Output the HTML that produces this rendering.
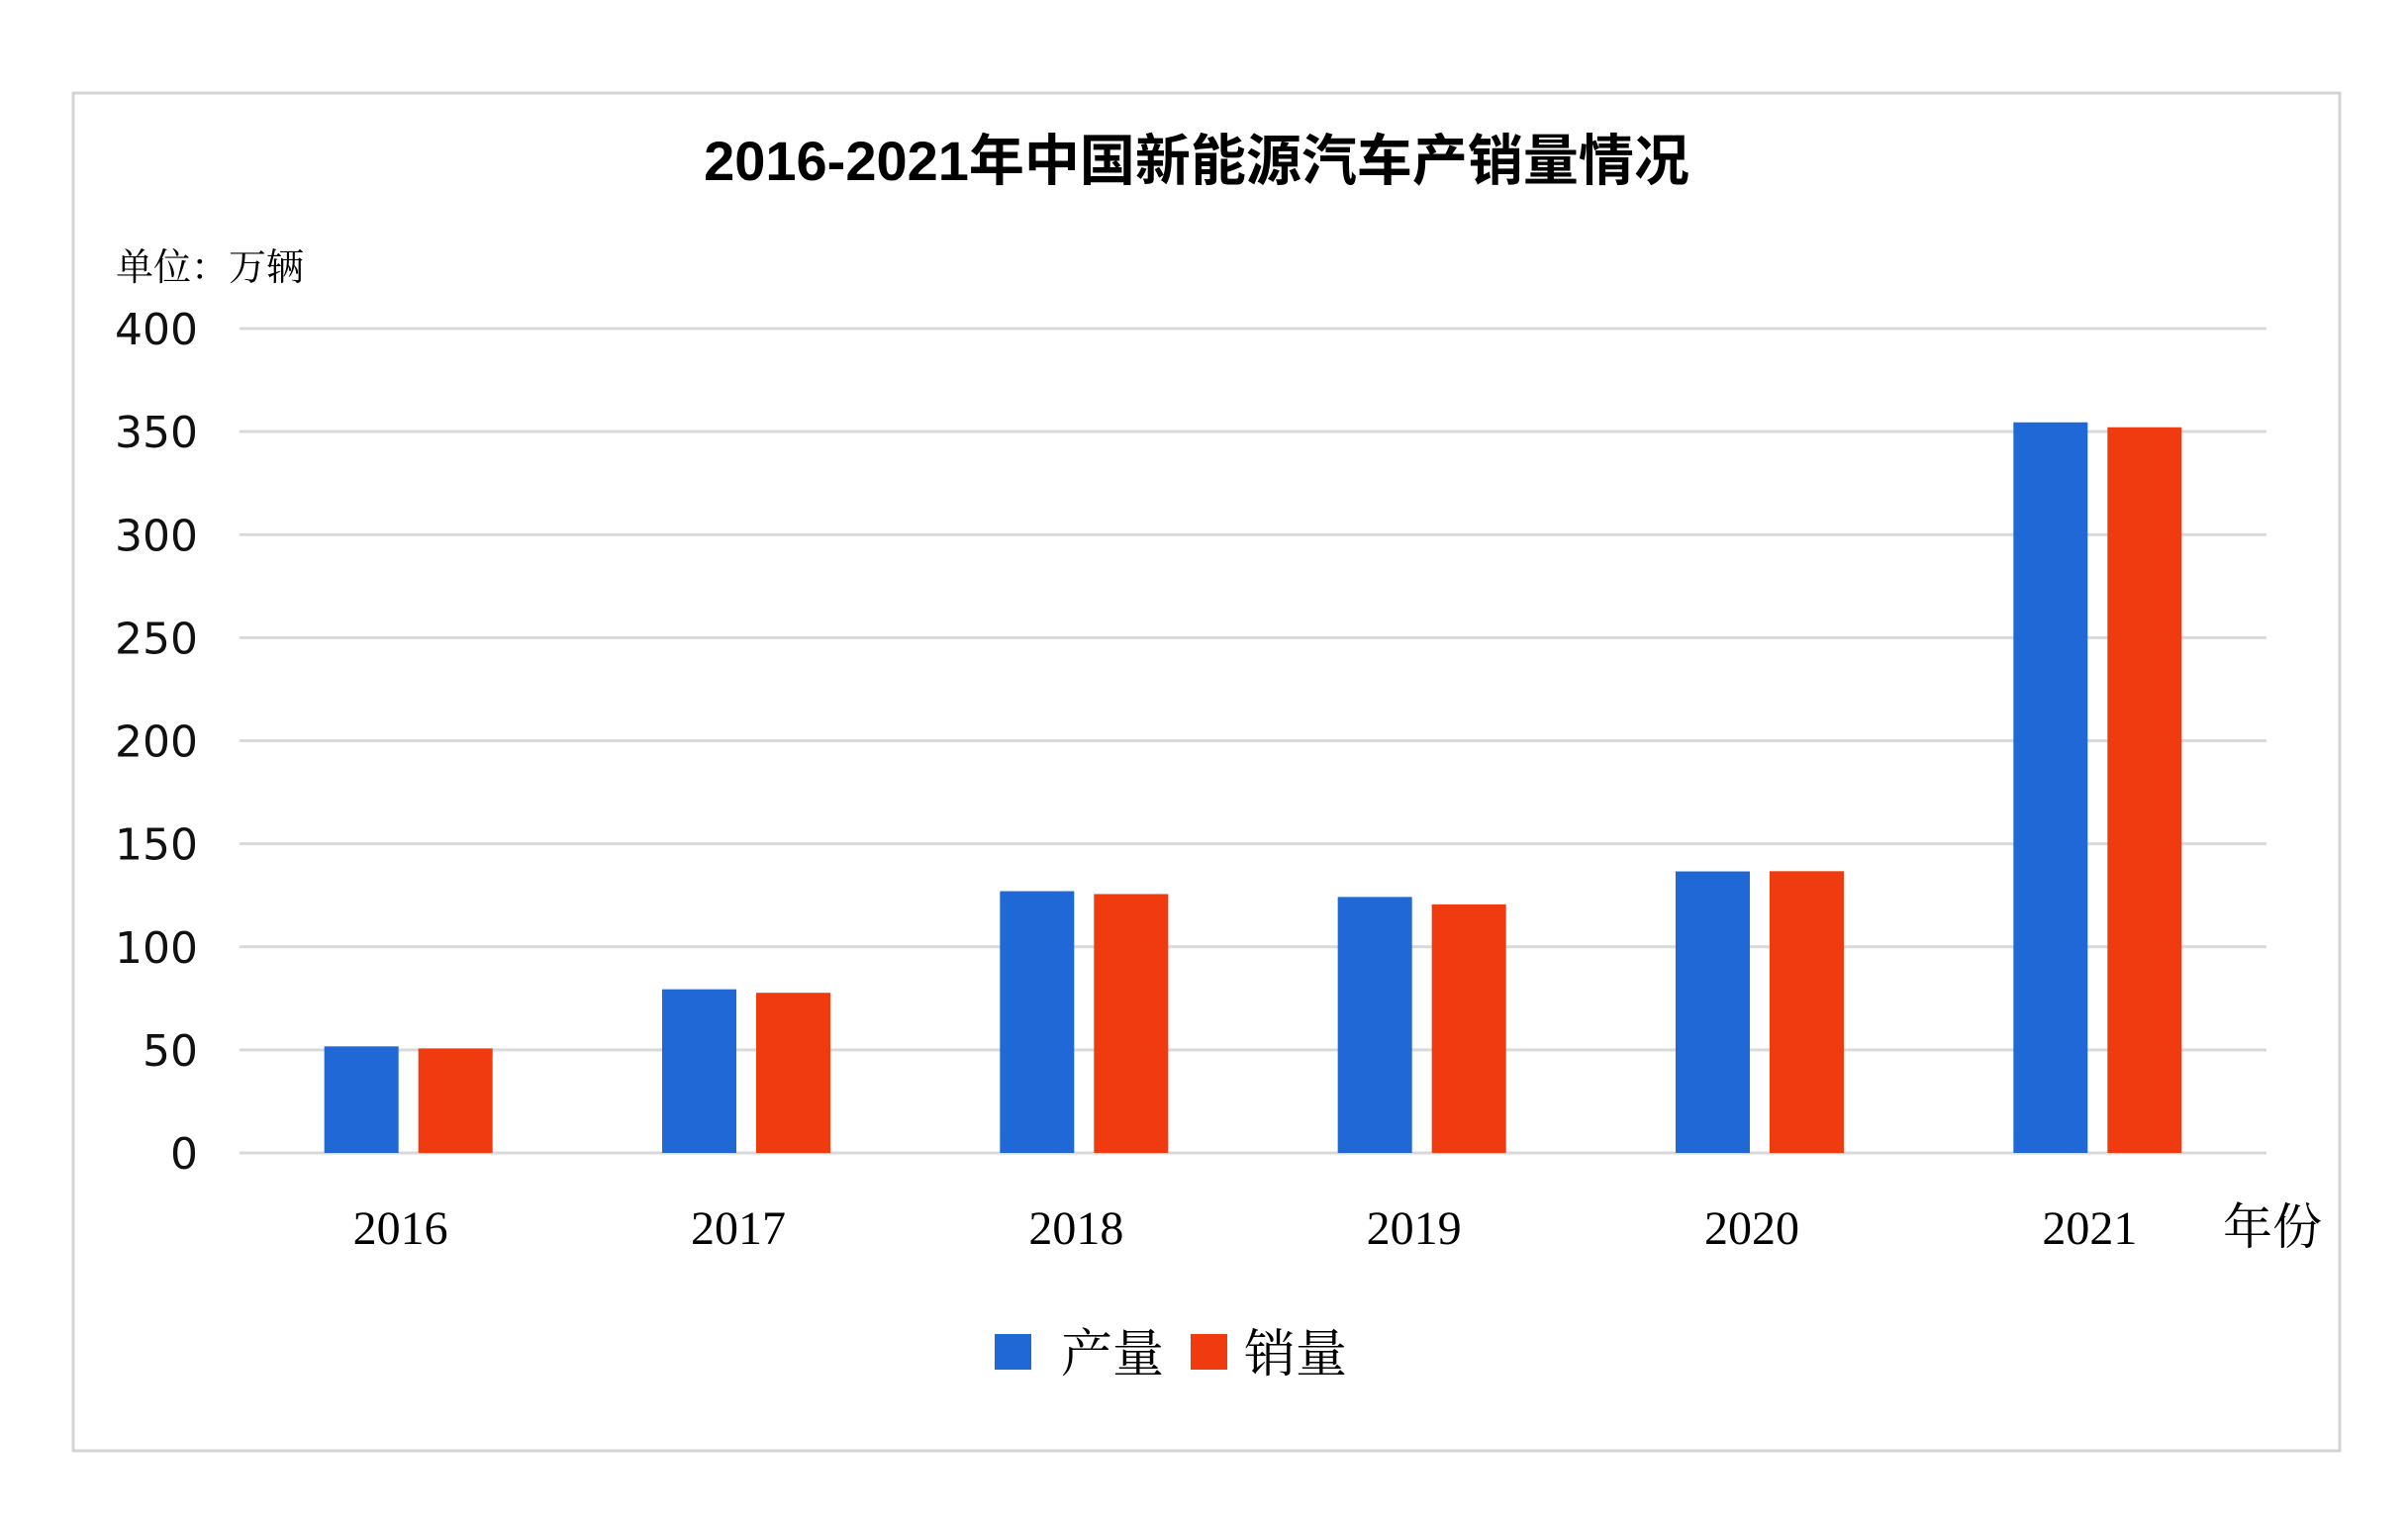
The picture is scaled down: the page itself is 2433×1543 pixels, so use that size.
<!DOCTYPE html>
<html><head><meta charset="utf-8"><style>
html,body{margin:0;padding:0;background:#fff;}
body{width:2433px;height:1543px;position:relative;overflow:hidden;}
svg{position:absolute;left:0;top:0;}
</style></head><body>
<svg id="chart" width="2433" height="1543">
<rect x="74" y="94" width="2290" height="1372" fill="#fff" stroke="#d4d4d4" stroke-width="3"/>
<text x="1209" y="182" text-anchor="middle" font-family="'Liberation Sans','Noto Sans CJK SC',sans-serif" font-weight="bold" font-size="56" fill="#000">2016-2021年中国新能源汽车产销量情况</text>
<text x="117" y="283" font-family="'Liberation Serif','Noto Serif CJK SC',serif" font-size="38" fill="#000">单位：万辆</text>
<g id="grid"></g>
<g id="yticks"></g>
<g id="bars"></g>
<g id="xticks"></g>
<text x="2296" y="1257" text-anchor="middle" font-family="'Liberation Serif','Noto Serif CJK SC',serif" font-size="50" fill="#000">年份</text>
<g>
<rect x="1005" y="1348" width="37" height="36" fill="#2068d6"/>
<text x="1072" y="1386" font-family="'Liberation Serif','Noto Serif CJK SC',serif" font-size="52" fill="#000">产量</text>
<rect x="1203" y="1348" width="37" height="36" fill="#f03a10"/>
<text x="1257" y="1386" font-family="'Liberation Serif','Noto Serif CJK SC',serif" font-size="52" fill="#000">销量</text>
</g>
</svg>
<script>
const categories = ["2016","2017","2018","2019","2020","2021"];
const production = [51.7, 79.4, 127, 124.2, 136.6, 354.5];
const sales = [50.7, 77.7, 125.6, 120.6, 136.7, 352.1];
const yTicks = [0,50,100,150,200,250,300,350,400];

const NS="http://www.w3.org/2000/svg";
const plotL=242, plotR=2290, y0=1165, y400=332;
function yScale(v){return y0-(v/400)*(y0-y400);}
const band=(plotR-plotL)/categories.length;
function xCenter(i){return plotL+band*(i+0.5);}
function mk(tag,attrs,parent){const e=document.createElementNS(NS,tag);for(const k in attrs)e.setAttribute(k,attrs[k]);parent.appendChild(e);return e;}

const grid=document.getElementById('grid'), yt=document.getElementById('yticks');
yTicks.forEach(t=>{
  const y=yScale(t);
  const l=mk('line',{x1:plotL,x2:plotR,y1:y,y2:y,stroke:'#d9d9d9','stroke-width':3},grid);
  
  
  const tx=mk('text',{x:200,y:y+16,'text-anchor':'end','font-family':"'DejaVu Sans',sans-serif",'font-size':44,fill:'#111'},yt);
  tx.textContent=t;
  
  
});

const bars=document.getElementById('bars'), xt=document.getElementById('xticks');
const bw=75, gap=20;
categories.forEach((c,i)=>{
  const cx=xCenter(i);
  const b1=mk('rect',{x:cx-gap/2-bw,y:yScale(production[i]),width:bw,height:y0-yScale(production[i]),fill:'#2068d6'},bars);
  
  
  const b2=mk('rect',{x:cx+gap/2,y:yScale(sales[i]),width:bw,height:y0-yScale(sales[i]),fill:'#f03a10'},bars);
  
  
  const t=mk('text',{x:cx-8,y:1257,'text-anchor':'middle','font-family':"'Liberation Serif',serif",'font-size':48,fill:'#000'},xt);
  t.textContent=c;
  
  
});
</script>
</body></html>
